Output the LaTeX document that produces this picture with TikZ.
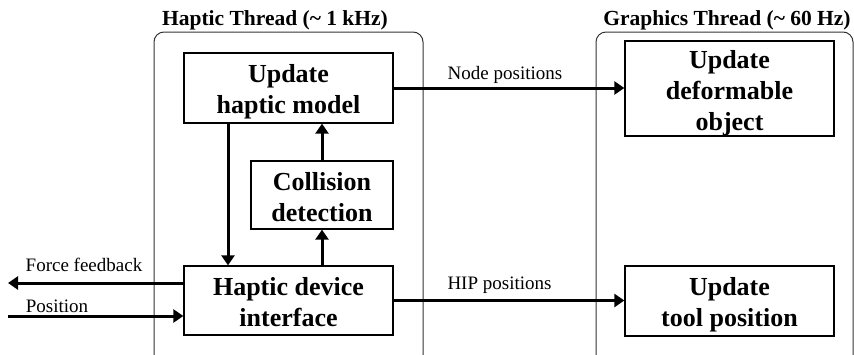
\documentclass[tikz,border=0pt]{standalone}
\usepackage{fontspec}
\setmainfont{Liberation Serif}
\usetikzlibrary{arrows.meta,calc}
\begin{document}
\begin{tikzpicture}[x=1pt,y=-1pt,
  box/.style={draw,line width=1.3pt,inner sep=0pt},
  btxt/.style={align=center,inner sep=0pt,font=\fontsize{26}{31}\selectfont\bfseries},
  thread/.style={draw=black!80,line width=1pt,rounded corners=10pt},
  ttl/.style={font=\fontsize{21.5}{25}\selectfont\bfseries,inner sep=0pt},
  lbl/.style={font=\fontsize{19}{22}\selectfont,inner sep=0pt},
  arr/.style={line width=3pt,-{Triangle[length=10pt,width=13pt]}}]
\clip (0,0) rectangle (854,354);
% containers
\draw[thread] (154,32) rectangle (423,365);
\draw[thread] (596,32) rectangle (853,365);
\node[ttl] (ht) at (275,20) {Haptic Thread (\textasciitilde\ 1 kHz)};
\node[ttl] (gt) at (727,20) {Graphics Thread (\textasciitilde\ 60 Hz)};
% boxes
\node[box,minimum width=209pt,minimum height=70pt,
  label={[btxt,yshift=-4pt]center:Update\\haptic model}] (uhm) at (288.5,88) {};
\node[box,minimum width=142pt,minimum height=68pt,
  label={[btxt,yshift=-2pt]center:Collision\\detection}] (cd) at (322,195) {};
\node[box,minimum width=209pt,minimum height=69pt,
  label={[btxt,yshift=-2pt]center:Haptic device\\interface}] (hdi) at (288.5,300.5) {};
\node[box,minimum width=209pt,minimum height=95pt,
  label={[btxt,yshift=-5pt]center:Update\\deformable\\object}] (udo) at (729.5,88.5) {};
\node[box,minimum width=209pt,minimum height=70pt,
  label={[btxt,yshift=-4pt]center:Update\\tool position}] (utp) at (729.5,301) {};
% internal arrows
\coordinate (dn) at (228,0);
\draw[arr] (dn |- uhm.south) -- (dn |- hdi.north);
\draw[arr] (cd.north) -- (cd.north |- uhm.south);
\draw[arr] (hdi.north -| cd.south) -- (cd.south);
% external arrows
\coordinate (ffend) at (8,283);
\coordinate (posstart) at (8,316);
\draw[arr] (ffend -| hdi.west) -- (ffend);
\draw[arr] (posstart) -- (posstart -| hdi.west);
\draw[arr] (uhm.east) -- (uhm.east -| udo.west);
\draw[arr] (hdi.east) -- (hdi.east -| utp.west);
% labels
\node[lbl] (lff) at (84,265) {Force feedback};
\node[lbl] (lpos) at (57,306) {Position};
\node[lbl] (lnp) at (505,75) {Node positions};
\node[lbl] (lhip) at (499.5,285) {HIP positions};
\end{tikzpicture}
\end{document}
